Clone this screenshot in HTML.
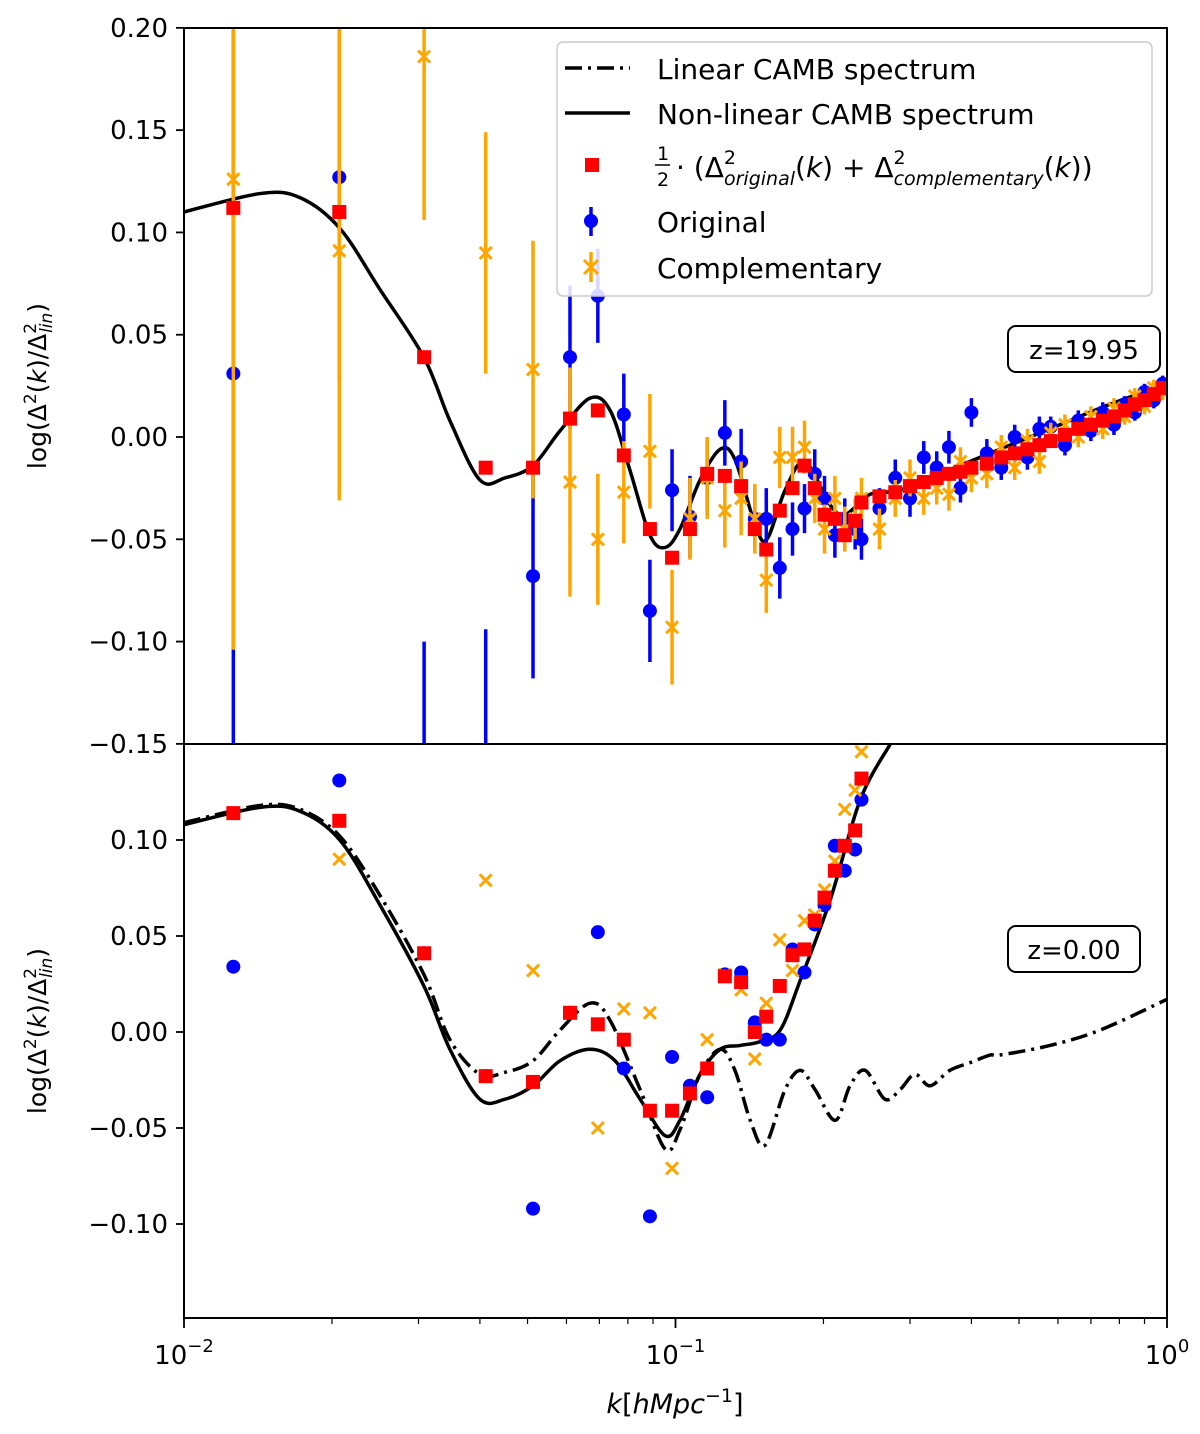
<!DOCTYPE html>
<html><head><meta charset="utf-8"><style>
body{margin:0;background:#fff;}
svg{display:block;font-family:"DejaVu Sans","Liberation Sans",sans-serif;}
</style></head><body>
<svg id="chart" width="1200" height="1434" viewBox="0 0 1200 1434">
<defs>
<clipPath id="clipTop"><rect x="184" y="28" width="983" height="716"/></clipPath>
<clipPath id="clipBot"><rect x="184" y="744" width="983" height="574"/></clipPath>
</defs>
<rect x="0" y="0" width="1200" height="1434" fill="#fff"/>
<g id="topMarks" clip-path="url(#clipTop)"></g>
<g id="botMarks" clip-path="url(#clipBot)"></g>
<g id="axes"></g>
<g>
<rect x="557" y="42" width="595" height="254" rx="6" fill="#fff" fill-opacity="0.85" stroke="#ccc" stroke-width="1.5"/>
<g>
<line x1="565" y1="68" x2="630" y2="68" stroke="#000" stroke-width="3.5" stroke-dasharray="17,6,3,6"/>
<text x="657" y="79" font-size="28">Linear CAMB spectrum</text></g>
<g>
<line x1="565" y1="113" x2="630" y2="113" stroke="#000" stroke-width="3.5"/>
<text x="657" y="124" font-size="28">Non-linear CAMB spectrum</text></g>
<g>
<rect x="585" y="158" width="14" height="14" fill="#ff0000"/>
<text x="657" y="160" font-size="19">1</text>
<line x1="655" y1="165" x2="670" y2="165" stroke="#000" stroke-width="1.5"/>
<text x="657" y="186" font-size="19">2</text>
<text x="676" y="177" font-size="28">· (Δ<tspan font-size="19" dy="-13">2</tspan><tspan font-size="19" font-style="italic" dx="-12" dy="21">original</tspan><tspan dy="-8">(</tspan><tspan font-style="italic">k</tspan>) + Δ<tspan font-size="19" dy="-13">2</tspan><tspan font-size="19" font-style="italic" dx="-12" dy="21">complementary</tspan><tspan dy="-8">(</tspan><tspan font-style="italic">k</tspan>))</text></g>
<g>
<line x1="591" y1="207" x2="591" y2="236" stroke="#0000ff" stroke-width="3.5"/>
<circle cx="591" cy="221" r="7" fill="#0000ff"/>
<text x="657" y="232" font-size="28">Original</text></g>
<g>
<line x1="591" y1="252" x2="591" y2="282" stroke="#ffa500" stroke-width="3.5"/>
<path d="M584 260 L598 274 M598 260 L584 274" stroke="#ffa500" stroke-width="3"/>
<text x="657" y="278" font-size="28">Complementary</text></g>
</g>
<g>
<rect x="1008" y="326" width="152" height="46" rx="8" fill="#fff" stroke="#000" stroke-width="2"/>
<text x="1084" y="359" font-size="26" text-anchor="middle">z=19.95</text></g>
<g>
<rect x="1008" y="926" width="132" height="46" rx="8" fill="#fff" stroke="#000" stroke-width="2"/>
<text x="1074" y="959" font-size="26" text-anchor="middle">z=0.00</text></g>
<text x="675" y="1413" font-size="27" text-anchor="middle"><tspan font-style="italic">k</tspan>[<tspan font-style="italic">hMpc</tspan><tspan font-size="19" dy="-11">−1</tspan><tspan dy="11">]</tspan></text>
<text transform="translate(46,386) rotate(-90)" font-size="25" text-anchor="middle">log(Δ<tspan font-size="17" dy="-10">2</tspan><tspan dy="10">(</tspan><tspan font-style="italic">k</tspan>)/Δ<tspan font-size="17" dy="-10">2</tspan><tspan font-size="17" font-style="italic" dx="-10" dy="16">lin</tspan><tspan dy="-6">)</tspan></text>
<text transform="translate(46,1031) rotate(-90)" font-size="25" text-anchor="middle">log(Δ<tspan font-size="17" dy="-10">2</tspan><tspan dy="10">(</tspan><tspan font-style="italic">k</tspan>)/Δ<tspan font-size="17" dy="-10">2</tspan><tspan font-size="17" font-style="italic" dx="-10" dy="16">lin</tspan><tspan dy="-6">)</tspan></text>
</svg>
<script>
// ---- data: top panel (z=19.95) ----
const kLow = [0.0126,0.0207,0.0308,0.0411,0.0513,0.061,0.0695,0.0785,0.0887,0.0984,0.107,0.116,0.126,0.136,0.145,0.153,0.163,0.173,0.183,0.192,0.201,0.211,0.221,0.232,0.239];
const topAvg = [0.112,0.110,0.039,-0.015,-0.015,0.009,0.013,-0.009,-0.045,-0.059,-0.045,-0.018,-0.019,-0.024,-0.045,-0.055,-0.036,-0.025,-0.014,-0.025,-0.038,-0.040,-0.048,-0.041,-0.032];
const topOrig = [0.031,0.127,-0.2,-0.2,-0.068,0.039,0.069,0.011,-0.085,-0.026,-0.039,-0.020,0.002,-0.012,-0.040,-0.040,-0.064,-0.045,-0.035,-0.018,-0.030,-0.048,-0.040,-0.045,-0.050];
const topOrigErr = [0.3,0.1,0.1,0.106,0.05,0.035,0.023,0.02,0.025,0.02,0.02,0.018,0.016,0.016,0.015,0.015,0.015,0.013,0.012,0.012,0.011,0.011,0.01,0.01,0.01];
const topComp = [0.126,0.091,0.186,0.09,0.033,-0.022,-0.050,-0.027,-0.007,-0.093,-0.040,-0.020,-0.036,-0.030,-0.040,-0.070,-0.010,-0.010,-0.005,-0.030,-0.045,-0.030,-0.045,-0.040,-0.030];
const topCompErr = [0.23,0.122,0.08,0.059,0.063,0.056,0.032,0.025,0.028,0.028,0.02,0.02,0.018,0.018,0.017,0.016,0.015,0.015,0.013,0.012,0.012,0.011,0.011,0.01,0.01];
const kHigh = [0.26,0.28,0.30,0.32,0.34,0.36,0.38,0.40,0.43,0.46,0.49,0.52,0.55,0.58,0.62,0.66,0.70,0.74,0.78,0.82,0.86,0.90,0.94,0.98];
const highAvg = [-0.029,-0.027,-0.024,-0.022,-0.020,-0.018,-0.017,-0.015,-0.013,-0.010,-0.008,-0.006,-0.004,-0.002,0.001,0.004,0.006,0.008,0.010,0.013,0.016,0.018,0.021,0.024];
const highOrig = [-0.035,-0.020,-0.030,-0.010,-0.015,-0.005,-0.025,0.012,-0.008,-0.015,0.000,-0.010,0.004,0.005,-0.004,0.008,0.003,0.012,0.006,0.016,0.012,0.022,0.018,0.026];
const highComp = [-0.045,-0.030,-0.020,-0.030,-0.025,-0.028,-0.012,-0.020,-0.018,-0.005,-0.015,-0.002,-0.012,0.002,0.006,0.000,0.010,0.004,0.014,0.010,0.020,0.015,0.024,0.022];
const highErr = [0.01,0.009,0.009,0.008,0.008,0.008,0.007,0.007,0.007,0.006,0.006,0.006,0.006,0.005,0.005,0.005,0.005,0.005,0.005,0.004,0.004,0.004,0.004,0.004];
const curveTopLogK = [-2,-1.845,-1.764,-1.683,-1.601,-1.512,-1.459,-1.398,-1.347,-1.29,-1.235,-1.174,-1.133,-1.093,-1.052,-1.021,-0.991,-0.95,-0.909,-0.879,-0.838,-0.814,-0.777,-0.737,-0.686,-0.655,-0.604,-0.543,-0.442,-0.34,-0.218,-0.116,0];
const curveTopVal = [0.110,0.119,0.117,0.102,0.072,0.039,0.008,-0.021,-0.020,-0.014,0.003,0.019,0.013,-0.016,-0.048,-0.054,-0.045,-0.021,-0.006,-0.011,-0.043,-0.050,-0.026,-0.012,-0.033,-0.038,-0.028,-0.026,-0.016,-0.006,0.006,0.016,0.026];
// ---- data: bottom panel (z=0.00) ----
const botAvg = [0.114,0.110,0.041,-0.023,-0.026,0.010,0.004,-0.004,-0.041,-0.041,-0.032,-0.019,0.029,0.026,0.000,0.008,0.024,0.040,0.043,0.058,0.070,0.084,0.097,0.105,0.132];
const botOrig = [0.034,0.131,0.041,-0.023,-0.092,0.010,0.052,-0.019,-0.096,-0.013,-0.028,-0.034,0.030,0.031,0.005,-0.004,-0.004,0.043,0.031,0.056,0.066,0.097,0.084,0.095,0.121];
const botComp = [0.19,0.090,0.041,0.079,0.032,0.010,-0.050,0.012,0.010,-0.071,-0.032,-0.004,0.030,0.022,-0.014,0.015,0.048,0.032,0.058,0.061,0.074,0.089,0.116,0.126,0.146];
const curveBotLogK = [-2,-1.845,-1.764,-1.683,-1.601,-1.512,-1.459,-1.398,-1.347,-1.29,-1.235,-1.174,-1.123,-1.072,-1.021,-0.991,-0.95,-0.909,-0.868,-0.828,-0.787,-0.746,-0.685,-0.624,-0.563];
const curveBotVal = [0.108,0.117,0.115,0.100,0.066,0.024,-0.009,-0.035,-0.035,-0.028,-0.015,-0.009,-0.015,-0.035,-0.054,-0.046,-0.022,-0.009,-0.007,-0.005,0.001,0.027,0.069,0.121,0.150];
const linBotLogK = [-2,-1.845,-1.764,-1.683,-1.601,-1.512,-1.459,-1.398,-1.347,-1.29,-1.235,-1.174,-1.133,-1.072,-1.021,-0.991,-0.95,-0.909,-0.879,-0.848,-0.818,-0.777,-0.746,-0.716,-0.675,-0.645,-0.614,-0.574,-0.543,-0.513,-0.482,-0.442,-0.401,-0.36,-0.34,-0.238,-0.136,0];
const linBotVal = [0.109,0.118,0.116,0.102,0.071,0.030,-0.004,-0.022,-0.021,-0.015,0.001,0.015,0.006,-0.030,-0.061,-0.051,-0.022,-0.009,-0.020,-0.046,-0.059,-0.030,-0.020,-0.030,-0.046,-0.028,-0.020,-0.035,-0.030,-0.022,-0.028,-0.020,-0.016,-0.012,-0.012,-0.007,0.001,0.017];
const topTicks = [0.20,0.15,0.10,0.05,0.00,-0.05,-0.10,-0.15];
const botTicks = [0.10,0.05,0.00,-0.05,-0.10];
const xTickExp = [-2,-1,0];

const NS='http://www.w3.org/2000/svg';
const X = k => 184 + (Math.log10(k)+2)*491.5;
const XL = lk => 184 + (lk+2)*491.5;
const YT = v => 437 - v*2045.7;
const YB = v => 1032 - v*1920;
function mk(tag, attrs, parent){const e=document.createElementNS(NS,tag);for(const a in attrs)e.setAttribute(a,attrs[a]);parent.appendChild(e);return e;}
function smooth(pts){let d=`M${pts[0][0]},${pts[0][1]}`;for(let i=0;i<pts.length-1;i++){const p0=pts[Math.max(0,i-1)],p1=pts[i],p2=pts[i+1],p3=pts[Math.min(pts.length-1,i+2)];const c1x=p1[0]+(p2[0]-p0[0])/6,c1y=p1[1]+(p2[1]-p0[1])/6,c2x=p2[0]-(p3[0]-p1[0])/6,c2y=p2[1]-(p3[1]-p1[1])/6;d+=` C${c1x},${c1y} ${c2x},${c2y} ${p2[0]},${p2[1]}`;}return d;}

const topG=document.getElementById('topMarks'), botG=document.getElementById('botMarks'), axesG=document.getElementById('axes');
function errbar(g,x,y1,y2,color){const l=mk('line',{x1:x,x2:x,y1:y1,y2:y2,stroke:color,'stroke-width':3.5},g);

}
function dot(g,x,y){const c=mk('circle',{cx:x,cy:y,r:7,fill:'#0000ff'},g);

}
function cross(g,x,y){const p=mk('path',{d:`M${x-6},${y-6} L${x+6},${y+6} M${x+6},${y-6} L${x-6},${y+6}`,stroke:'#ffa500','stroke-width':3},g);

}
function sq(g,x,y){const r=mk('rect',{x:x-7,y:y-7,width:14,height:14,fill:'#ff0000'},g);

}

// top panel
const ct=mk('path',{d:smooth(curveTopLogK.map((l,i)=>[XL(l),YT(curveTopVal[i])])),fill:'none',stroke:'#000','stroke-width':3.5},topG);


kLow.forEach((k,i)=>{errbar(topG,X(k),YT(topOrig[i]-topOrigErr[i]),YT(topOrig[i]+topOrigErr[i]),'#0000ff');dot(topG,X(k),YT(topOrig[i]));});
kHigh.forEach((k,i)=>{errbar(topG,X(k),YT(highOrig[i]-highErr[i]),YT(highOrig[i]+highErr[i]),'#0000ff');dot(topG,X(k),YT(highOrig[i]));});
kLow.forEach((k,i)=>{errbar(topG,X(k),YT(topComp[i]-topCompErr[i]),YT(topComp[i]+topCompErr[i]),'#ffa500');cross(topG,X(k),YT(topComp[i]));});
kHigh.forEach((k,i)=>{errbar(topG,X(k),YT(highComp[i]-highErr[i]),YT(highComp[i]+highErr[i]),'#ffa500');cross(topG,X(k),YT(highComp[i]));});
kLow.forEach((k,i)=>sq(topG,X(k),YT(topAvg[i])));
kHigh.forEach((k,i)=>sq(topG,X(k),YT(highAvg[i])));

// bottom panel
const lb=mk('path',{d:smooth(linBotLogK.map((l,i)=>[XL(l),YB(linBotVal[i])])),fill:'none',stroke:'#000','stroke-width':3.5,'stroke-dasharray':'17,6,3,6'},botG);


const cb=mk('path',{d:smooth(curveBotLogK.map((l,i)=>[XL(l),YB(curveBotVal[i])])),fill:'none',stroke:'#000','stroke-width':3.5},botG);


kLow.forEach((k,i)=>dot(botG,X(k),YB(botOrig[i])));
kLow.forEach((k,i)=>cross(botG,X(k),YB(botComp[i])));
kLow.forEach((k,i)=>sq(botG,X(k),YB(botAvg[i])));

// axes frames
[[28,716],[744,574]].forEach(([y,h],j)=>{const r=mk('rect',{x:184,y:y,width:983,height:h,fill:'none',stroke:'#000','stroke-width':2},axesG);

});
function fmt(v){const s=Math.abs(v).toFixed(2);return (v<-1e-9?'−':'')+s;}
topTicks.forEach(v=>{const y=YT(v);mk('line',{x1:176,x2:184,y1:y,y2:y,stroke:'#000','stroke-width':1.8},axesG);
const t=mk('text',{x:168,y:y+9,'font-size':26,'text-anchor':'end'},axesG);t.textContent=fmt(v);

});
botTicks.forEach(v=>{const y=YB(v);mk('line',{x1:176,x2:184,y1:y,y2:y,stroke:'#000','stroke-width':1.8},axesG);
const t=mk('text',{x:168,y:y+9,'font-size':26,'text-anchor':'end'},axesG);t.textContent=fmt(v);

});
xTickExp.forEach(e=>{const x=XL(e);mk('line',{x1:x,x2:x,y1:1318,y2:1328,stroke:'#000','stroke-width':1.8},axesG);
const t=mk('text',{x:x,y:1364,'font-size':26,'text-anchor':'middle'},axesG);
t.innerHTML=`10<tspan font-size="18" dy="-12">${e===0?'0':'−'+(-e)}</tspan>`;


if(e<0){for(let m=2;m<10;m++){const xm=XL(e+Math.log10(m));mk('line',{x1:xm,x2:xm,y1:1318,y2:1324,stroke:'#000','stroke-width':1.2},axesG);}}});
</script>
</body></html>
